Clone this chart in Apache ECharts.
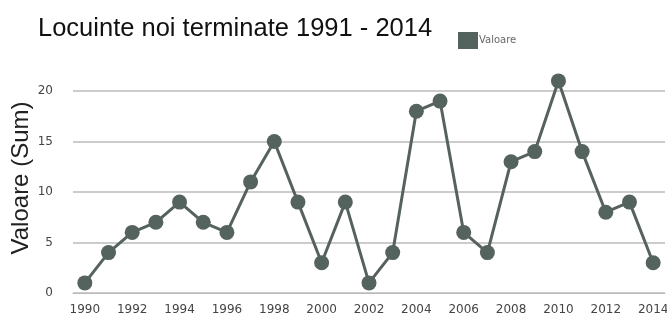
<!DOCTYPE html>
<html><head><meta charset="utf-8">
<script src="https://cdn.jsdelivr.net/npm/echarts@6/dist/echarts.min.js"></script>
<style>html,body{margin:0;padding:0;background:#fff}#c{width:667px;height:322px}</style>
</head><body><div id="c"></div>
<script>
const years = ['1990','1991','1992','1993','1994','1995','1996','1997','1998','1999','2000','2001','2002','2003','2004','2005','2006','2007','2008','2009','2010','2011','2012','2013','2014'];
const values = [1,4,6,7,9,7,6,11,15,9,3,9,1,4,18,19,6,4,13,14,21,14,8,9,3];
const seriesName = 'Valoare';
const titleText = 'Locuinte noi terminate 1991 - 2014';
const yAxisName = 'Valoare (Sum)';

const chart = echarts.init(document.getElementById('c'));
chart.setOption({
  animation: false,
  backgroundColor: '#fff',
  title: { text: titleText, left: 33, top: 11,
    textStyle: { fontFamily: 'Liberation Sans', fontSize: 25.5, fontWeight: 'normal', color: '#111' } },
  legend: { data: [{ name: seriesName, icon: 'rect' }], left: 453, top: 27, itemWidth: 20, itemHeight: 17, itemGap: 2,
    textStyle: { fontFamily: 'DejaVu Sans', fontSize: 10, color: '#666', padding: [0,0,0,-4] } },
  grid: { left: 73, right: 2, top: 91, bottom: 29, containLabel: false, outerBoundsMode: 'none' },
  xAxis: { type: 'category', data: years, boundaryGap: true,
    axisLine: { show: true, lineStyle: { color: '#bbb', width: 1 } },
    axisTick: { show: false },
    axisLabel: { interval: 1, margin: 11, fontFamily: 'DejaVu Sans', fontSize: 12, color: '#444' } },
  yAxis: { type: 'value', min: 0, max: 20, interval: 5,
    name: yAxisName, nameLocation: 'middle', nameGap: 40, nameRotate: 90, nameMoveOverlap: false,
    nameTextStyle: { fontFamily: 'Liberation Sans', fontSize: 24, color: '#222', padding: [0,0,0,28] },
    axisLine: { show: false }, axisTick: { show: false },
    axisLabel: { margin: 20, fontFamily: 'DejaVu Sans', fontSize: 12, color: '#444' },
    splitLine: { lineStyle: { color: '#ccc', width: 2 } } },
  series: [{ name: seriesName, type: 'line', data: values, clip: false,
    symbol: 'circle', symbolSize: 15,
    lineStyle: { color: '#56625e', width: 3 },
    itemStyle: { color: '#55635f' } }]
});
</script></body></html>
